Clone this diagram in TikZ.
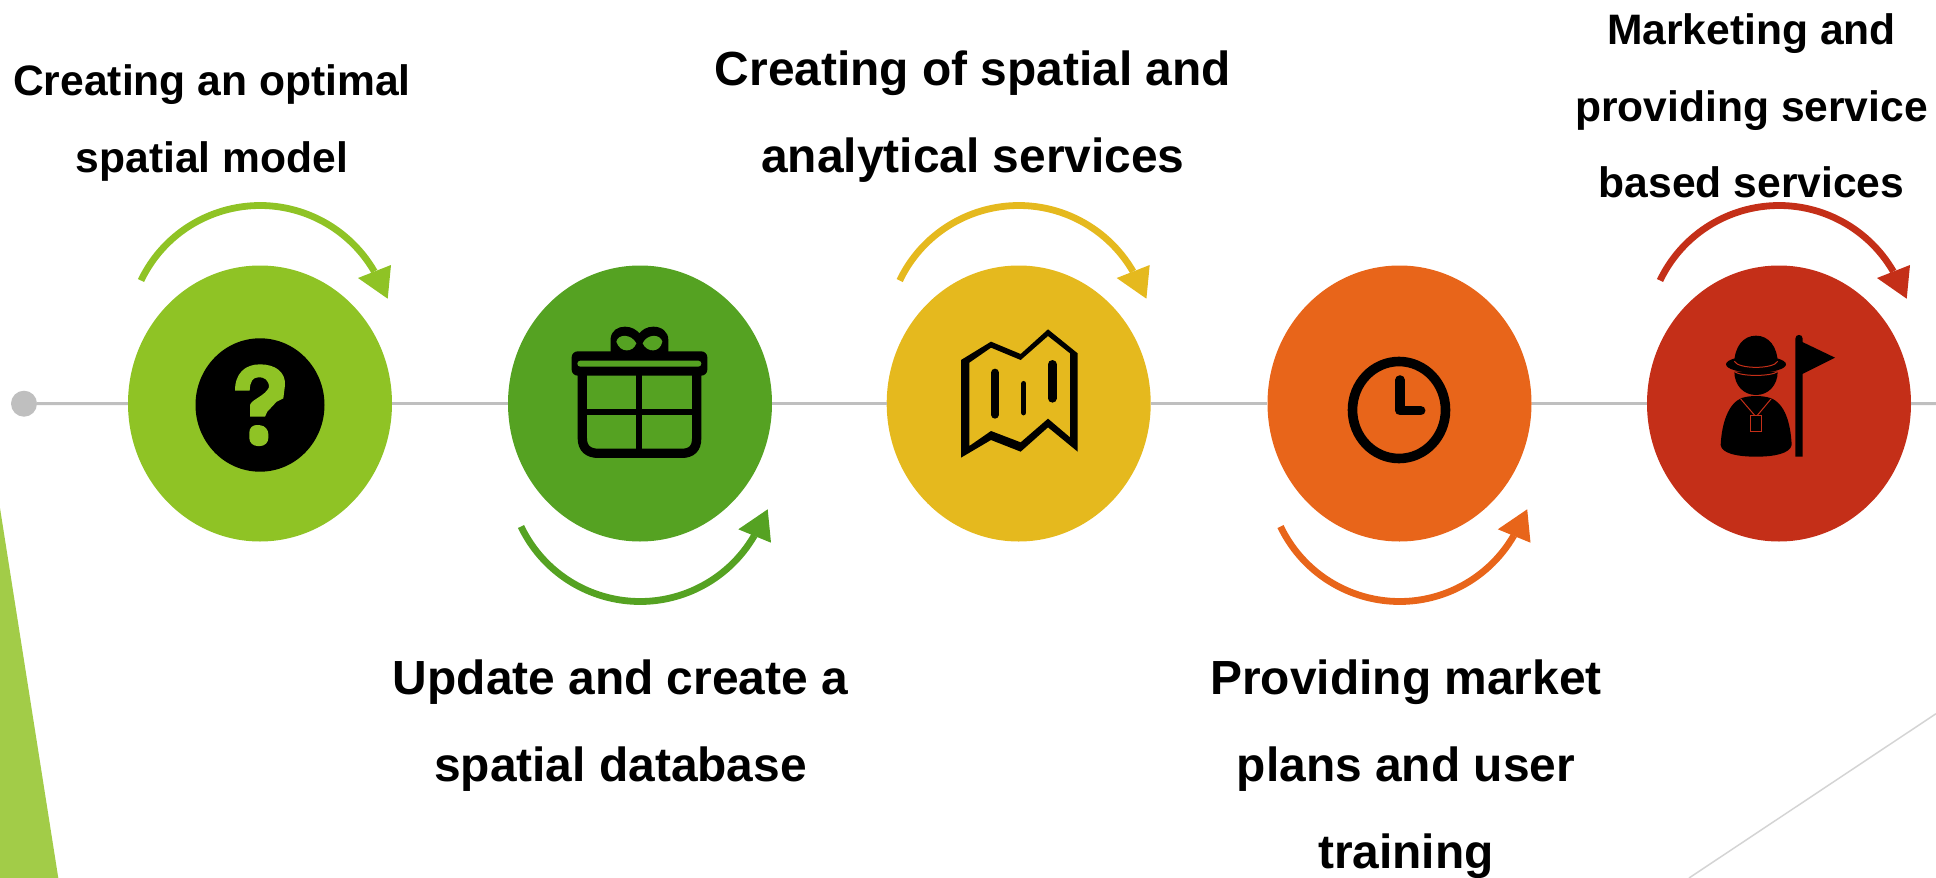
\documentclass[tikz,border=0pt]{standalone}
\usepackage{fontspec}
\setmainfont{Liberation Sans}
\usetikzlibrary{shapes.geometric,calc}
\definecolor{cLime}{HTML}{8FC325}
\definecolor{cGreen}{HTML}{55A222}
\definecolor{cYellow}{HTML}{E5B91E}
\definecolor{cOrange}{HTML}{E8651A}
\definecolor{cRed}{HTML}{C42F18}
\definecolor{cGrey}{HTML}{BFBFBF}
\definecolor{cWedge}{HTML}{A2CC48}
\definecolor{cThin}{HTML}{D4D4D4}
\tikzset{
  stepdisc/.style={ellipse,inner sep=0pt,minimum width=264pt,minimum height=276pt,fill=#1},
  arcline/.style={line width=6.8pt,draw=#1},
  axisline/.style={line width=3pt,draw=cGrey},
  bigtext/.style={align=center,font=\bfseries\fontsize{47.9}{87}\selectfont,inner sep=0pt},
  midtext/.style={align=center,font=\bfseries\fontsize{42.6}{76.5}\selectfont,inner sep=0pt},
  zoomed/.style={x=0.33333pt,y=-0.33333pt},
}
\newcommand{\arcover}[2]{%
  \coordinate (#1as) at ($(#1)+(-119,123)$);
  \draw[arcline=#2] (#1as) arc[start angle=154.4,end angle=30,radius=132pt];
  \fill[#2] ($(#1)+(131,138.5)$) -- ($(#1)+(127.7,104.8)$) -- ($(#1)+(98,125.5)$) -- cycle;
}
\newcommand{\arcunder}[2]{%
  \coordinate (#1as) at ($(#1)+(-119,-123)$);
  \draw[arcline=#2] (#1as) arc[start angle=205.6,end angle=330,radius=132pt];
  \fill[#2] ($(#1)+(127.7,-105.8)$) -- ($(#1)+(131,-139.2)$) -- ($(#1)+(98.3,-125.8)$) -- cycle;
}
\begin{document}
\begin{tikzpicture}[x=1pt,y=1pt]
\useasboundingbox (0,0) rectangle (1936,-878);
% backdrop shapes
\fill[cWedge] (0,-508) -- (58.3,-878) -- (0,-878) -- cycle;
\draw[cThin,line width=1.5pt] (1936,-713.7) -- (1689,-878);
% discs
\node[stepdisc=cLime]   (c1) at (260,-403.5) {};
\node[stepdisc=cGreen]  (c2) at (640,-403.5) {};
\node[stepdisc=cYellow] (c3) at (1018.7,-403.5) {};
\node[stepdisc=cOrange] (c4) at (1399.5,-403.5) {};
\node[stepdisc=cRed]    (c5) at (1779,-403.5) {};
\node[circle,fill=cGrey,inner sep=0pt,minimum size=26pt] (dot) at (24,-403.7) {};
\coordinate (lineend) at (1936,-403.7);
\draw[axisline] (dot.east) -- (c1.west);
\draw[axisline] (c1.east) -- (c2.west);
\draw[axisline] (c2.east) -- (c3.west);
\draw[axisline] (c3.east) -- (c4.west);
\draw[axisline] (c4.east) -- (c5.west);
\draw[axisline] (c5.east) -- (lineend);
% curved arrows
\arcover{c1}{cLime}
\arcunder{c2}{cGreen}
\arcover{c3}{cYellow}
\arcunder{c4}{cOrange}
\arcover{c5}{cRed}
% question icon
\begin{scope}[shift={(120,-190)},zoomed]
  \fill[black] (420,645) ellipse [x radius=64.5pt,y radius=66.7pt];
  \fill[cLime] (345,602) .. controls (345,550) and (375,523) .. (420,523)
    .. controls (465,523) and (497,545) .. (495,585) -- (490,625)
    -- (470,635) -- (442,665) -- (435,680) -- (390,680) -- (390,645)
    .. controls (395,628) and (435,618) .. (447,592)
    .. controls (447,570) and (432,560) .. (415,562)
    .. controls (398,562) and (390,575) .. (389,602) -- cycle;
  \fill[cLime,rounded corners=8pt] (388,703) -- (445,708) -- (445,768) -- (388,768) -- cycle;
\end{scope}
% gift icon
\begin{scope}[shift={(500,-310)},zoomed]
  \fill[black] (332,130) -- (332,85) .. controls (335,60) and (355,50) .. (375,50)
     .. controls (395,50) and (410,60) .. (418,70)
     .. controls (426,60) and (440,50) .. (460,50)
     .. controls (485,50) and (505,65) .. (505,90) -- (505,130) -- cycle;
  \fill[cGreen] (349,95) .. controls (355,70) and (395,72) .. (409,100)
     .. controls (400,128) and (360,130) .. (349,95) -- cycle;
  \fill[cGreen] (428,100) .. controls (440,72) and (480,70) .. (487,95)
     .. controls (480,130) and (440,128) .. (428,100) -- cycle;
  \fill[black,rounded corners=6pt] (215,124) -- (622,124) -- (622,197) -- (215,197) -- cycle;
  \fill[cGreen,rounded corners=3pt] (232,152) -- (604,152) -- (604,170) -- (232,170) -- cycle;
  \draw[black,line width=9.3pt] (247,190) -- (247,385) .. controls (247,415) and (265,430) .. (295,430)
     -- (545,430) .. controls (575,430) and (590,415) .. (590,385) -- (590,190);
  \draw[black,line width=6pt] (418,190) -- (418,430);
  \draw[black,line width=6pt] (255,307) -- (580,307);
\end{scope}
% map icon
\begin{scope}[shift={(930,-310)},zoomed]
  \fill[black,even odd rule] (93,150) -- (183,95) -- (272,132) -- (354,58) -- (443,130) -- (443,425)
     -- (354,352) -- (272,425) -- (183,390) -- (93,443) -- cycle
     (118,158) -- (183,113) -- (272,150) -- (354,78) -- (420,130) -- (420,382)
     -- (354,326) -- (272,397) -- (183,363) -- (118,408) -- cycle;
  \draw[black,line width=8pt,line cap=round] (195,188) -- (195,314);
  \draw[black,line width=5.4pt,line cap=round] (281,221) -- (281,308);
  \draw[black,line width=8.6pt,line cap=round] (367,163) -- (367,265);
\end{scope}
% clock icon
\begin{scope}[shift={(1320,-340)},zoomed]
  \draw[black,line width=9.6pt] (237,210) ellipse [x radius=46.5pt,y radius=48.5pt];
  \draw[black,line width=9.6pt,line cap=round,line join=round] (240,120) -- (240,212) -- (302,212);
\end{scope}
% guide icon
\begin{scope}[shift={(1700,-320)},zoomed]
  \fill[black] (168,133) ellipse [x radius=30pt,y radius=8.5pt];
  \fill[black] (103,130) .. controls (103,80) and (130,47) .. (168,47)
     .. controls (206,47) and (233,80) .. (233,130) -- cycle;
  \fill[black] (103,155) .. controls (103,195) and (130,225) .. (168,225)
     .. controls (206,225) and (233,195) .. (233,155) -- cycle;
  \draw[cRed,line width=1pt] (103,124) .. controls (115,148) and (221,148) .. (233,124);
  \draw[cRed,line width=1pt] (103,155) .. controls (125,170) and (211,170) .. (233,155);
  \fill[black] (62,375) .. controls (65,310) and (85,250) .. (125,234)
     .. controls (150,226) and (186,226) .. (211,234)
     .. controls (255,250) and (272,310) .. (275,375)
     .. controls (270,400) and (225,410) .. (168,410)
     .. controls (110,410) and (65,400) .. (62,375) -- cycle;
  \draw[cRed,line width=1pt] (122,237) -- (164,286) (213,237) -- (172,286);
  \draw[cRed,line width=1pt] (152,287) rectangle (184,334);
  \fill[black] (286,410) -- (286,56) .. controls (286,41) and (308,41) .. (308,56) -- (308,410) -- cycle;
  \fill[black] (305,65) -- (405,113) -- (305,163) -- cycle;
\end{scope}
% labels
\node[midtext] (t1) at (212,-123) {Creating an optimal\\spatial model};
\node[bigtext] (t2) at (620.5,-726) {Update and create a\\spatial database};
\node[bigtext] (t3) at (973,-117) {Creating of spatial and\\analytical services};
\node[bigtext] (t4) at (1406,-769) {Providing market\\plans and user\\training};
\node[midtext] (t5) at (1751.5,-106) {Marketing and\\providing service\\based services};
\end{tikzpicture}
\end{document}
